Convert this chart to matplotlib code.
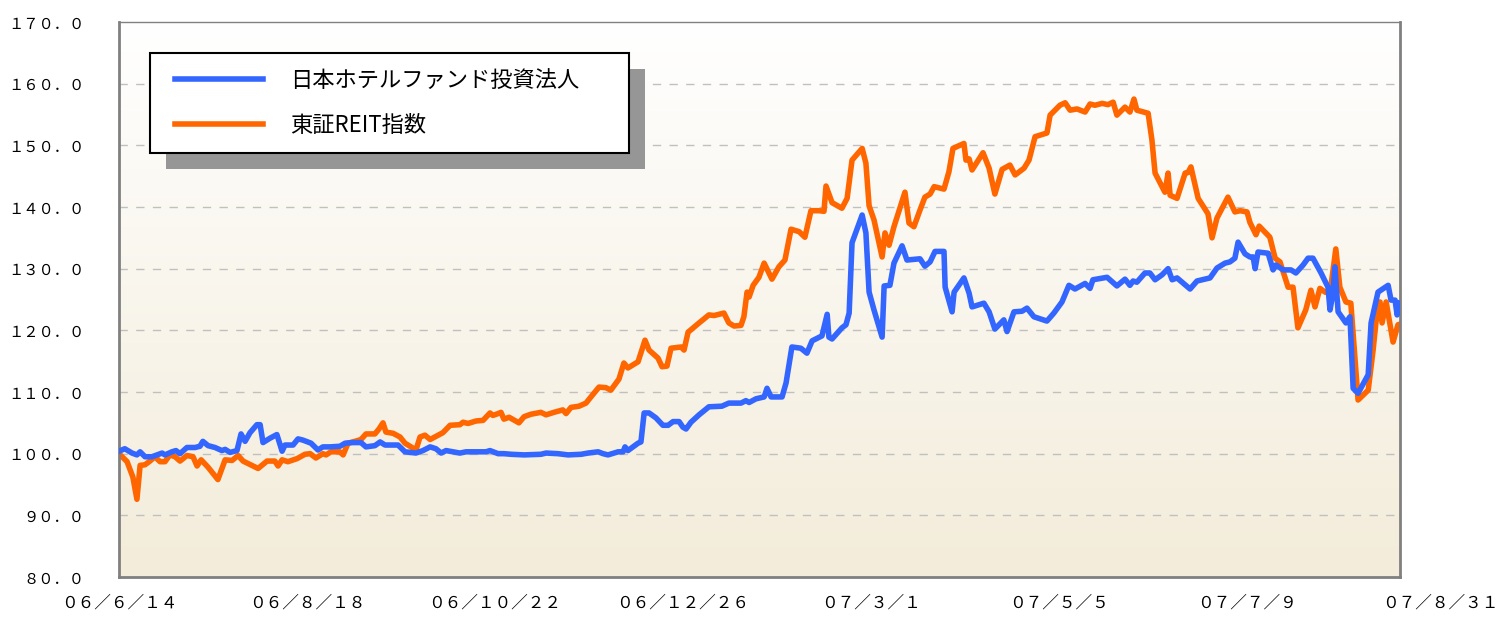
import matplotlib
matplotlib.use("Agg")
import matplotlib.pyplot as plt
import matplotlib.transforms as mtransforms
from matplotlib.patches import Rectangle
from matplotlib.lines import Line2D
from matplotlib.legend_handler import HandlerLine2D
import numpy as np

plt.rcParams["font.family"] = ["Noto Sans CJK JP", "DejaVu Sans"]

# days since 06/6/14 and index values (start = 100)
hotel_days = [0, 2, 4.5, 6.2, 7.3, 9, 11.4, 13.1, 14.9, 15.9, 18.3, 19.7, 21.1, 23.5, 26.3,
              28, 29, 30.8, 33.2, 35.6, 36.7, 38.4, 40.8, 42.2, 43.6, 45.3, 47.7, 48.8, 49.8,
              52.2, 54.6, 56.4, 57.4, 60.2, 61.9, 63.6, 66.4, 68.8, 70.5, 73, 76.4, 78.2,
              80.9, 83.7, 85.4, 88.5, 90.3, 92, 96.5, 98.9, 102.7, 105.1, 107.6, 109.6,
              111.4, 113.1, 117.9, 120, 126.9, 128.3, 131.1, 133.1, 135.6, 140.1, 145.9,
              147.7, 151.8, 155.3, 159.8, 162.2, 165.7, 167.4, 169.1, 172.6, 174.3, 175, 176,
              179.5, 180.5, 181.6, 183.3, 185.7, 188.1, 189.9, 191.6, 193.7, 195, 196.1,
              197.8, 200.6, 204, 208.5, 210.9, 215.1, 216.8, 217.9, 220.3, 223.1, 224.1,
              225.5, 229.3, 230.7, 232.7, 235.8, 237.9, 239.7, 243.1, 244.9, 245.5, 246.6,
              250, 251.4, 252.5, 253.5, 257, 258.3, 259.4, 261.1, 263.9, 264.6, 266.6, 268,
              270.8, 272.5, 277, 278.7, 280.5, 282.2, 285.3, 285.7, 288.1, 288.8, 292.2, 294,
              295, 299.1, 300.9, 302.9, 306, 307.1, 309.5, 312.3, 314, 316.4, 320.9, 323.3,
              326.1, 328.5, 330.6, 334.1, 335.8, 336.8, 341.7, 345.1, 347.9, 349.6, 350.7,
              352, 354.8, 356.5, 358.3, 360.7, 362.8, 364.2, 365.9, 370.4, 372.8, 377.3,
              379.7, 382.5, 384.2, 385.9, 387, 389.4, 391.1, 392.2, 392.9, 393.9, 397.4,
              399.1, 400.1, 402.6, 405.3, 407, 409.5, 411.2, 412.9, 415.7, 418.1, 418.8,
              419.8, 420.5, 421.6, 424.3, 425.7, 426.8, 428.5, 432, 433, 435.4, 438.9, 439.9,
              441.3, 442, 443]
hotel_vals = [100.4, 100.8, 100.1, 99.8, 100.3, 99.5, 99.5, 99.8, 100.1, 99.8, 100.3, 100.5,
              100.0, 101.0, 101.0, 101.2, 102.0, 101.3, 101.0, 100.5, 100.7, 100.2, 100.5,
              103.2, 102.0, 103.4, 104.7, 104.7, 101.8, 102.5, 103.1, 100.4, 101.4, 101.4,
              102.4, 102.2, 101.7, 100.6, 101.1, 101.1, 101.2, 101.7, 101.8, 101.8, 101.1,
              101.3, 101.9, 101.4, 101.4, 100.3, 100.1, 100.5, 101.1, 100.8, 100.1, 100.5,
              100.1, 100.3, 100.3, 100.5, 100.0, 100.0, 99.9, 99.8, 99.9, 100.1, 100.0, 99.8,
              99.9, 100.1, 100.3, 100.0, 99.8, 100.3, 100.3, 101.1, 100.5, 101.7, 101.9,
              106.6, 106.6, 105.8, 104.6, 104.6, 105.2, 105.2, 104.3, 104.0, 105.1, 106.3,
              107.6, 107.7, 108.2, 108.2, 108.6, 108.3, 108.9, 109.2, 110.6, 109.2, 109.2,
              111.5, 117.3, 117.1, 116.3, 118.3, 119.1, 122.6, 118.9, 118.6, 120.4, 120.9,
              122.8, 134.2, 138.7, 135.8, 126.2, 123.3, 118.9, 127.2, 127.3, 130.9, 133.7,
              131.4, 131.6, 130.4, 131.1, 132.8, 132.8, 127.0, 123.0, 126.2, 128.5, 126.0,
              123.8, 124.4, 123.0, 120.2, 121.7, 119.8, 123.0, 123.1, 123.6, 122.2, 121.5,
              122.8, 124.6, 127.3, 126.7, 127.6, 126.8, 128.2, 128.6, 127.2, 128.3, 127.3,
              128.0, 127.8, 129.3, 129.3, 128.2, 129.0, 130.0, 128.2, 128.5, 126.7, 128.0,
              128.5, 130.1, 130.9, 131.1, 131.7, 134.3, 132.4, 131.9, 131.9, 130.0, 132.7,
              132.5, 129.8, 130.6, 129.8, 129.8, 129.3, 130.6, 131.7, 131.7, 129.3, 127.0,
              123.3, 126.0, 130.3, 123.0, 121.2, 122.2, 110.6, 109.8, 112.8, 121.2, 126.2,
              127.3, 124.9, 124.9, 122.5, 124.4]

reit_days = [0, 2.8, 4.8, 6.2, 7.3, 9, 10.7, 12.4, 14.2, 15.9, 17.6, 19.4, 21.1, 23.5, 25.6,
             27, 28.4, 30.8, 34.2, 36.7, 39.1, 41.2, 42.9, 48.1, 51.2, 53.9, 55, 56.4, 58.4,
             61.6, 64.3, 66.1, 68.1, 70.5, 71.6, 73.3, 76.4, 77.5, 79.2, 81.6, 83.7, 85.4,
             88.5, 89.9, 91.3, 92.3, 94.8, 97.2, 98.9, 101, 102.7, 104.1, 105.8, 107.6, 109.6,
             112, 114.5, 117.9, 119, 120.7, 123.5, 125.9, 128.3, 129.3, 131.1, 132.1, 133.1,
             134.9, 138.3, 140.1, 142.5, 145.9, 147.7, 150.4, 153.5, 154.6, 156.3, 159.1,
             161.5, 163.2, 166, 168.4, 170.1, 172.9, 174.6, 176, 179.5, 181.9, 183.3, 186.4,
             187.8, 189.5, 190.9, 194.4, 195.4, 196.8, 200.6, 204, 205.8, 209.2, 210.9, 212.7,
             215.1, 216.1, 217.2, 217.9, 219.3, 221.3, 223.1, 225.8, 228.2, 230.3, 232.4,
             235.2, 237.2, 239.3, 242.1, 243.8, 244.5, 246.6, 250, 251.8, 253.5, 257, 258.3,
             259.4, 261.1, 263.9, 264.9, 266.3, 268, 271.8, 273.2, 274.9, 277, 278.7, 280.5,
             281.9, 285.3, 287, 288.4, 292.2, 292.9, 294, 295, 298.8, 300.9, 302.9, 305.4,
             308.1, 309.9, 313, 314.7, 316.8, 320.9, 322, 325.4, 327.2, 328.9, 331.3, 334.1,
             335.8, 337.5, 340, 342, 343.8, 345.1, 347.9, 349.6, 351, 352, 355.9, 357.2,
             358.3, 360.7, 361.7, 362.8, 363.5, 365.9, 368.7, 369.7, 370.7, 373.2, 376.6, 378,
             379.7, 383.5, 385.9, 387.7, 390.1, 391.1, 393.2, 394.3, 398, 399.8, 401.5, 404.3,
             406, 407.7, 410.4, 412.2, 413.6, 415.3, 417.1, 418.8, 420.8, 422.2, 424.3, 426,
             428.5, 432, 433.7, 434.7, 436.1, 436.8, 438.2, 440.6, 442.3, 443]
reit_vals = [100.0, 98.7, 96.2, 92.6, 98.1, 98.2, 98.8, 99.5, 98.7, 98.7, 99.8, 99.5, 98.8,
             99.7, 99.5, 98.0, 99.0, 97.8, 95.8, 99.0, 98.9, 99.7, 98.8, 97.6, 98.8, 98.8,
             98.0, 99.0, 98.7, 99.2, 99.9, 100.0, 99.3, 100.0, 99.8, 100.3, 100.3, 99.8, 101.7,
             102.0, 102.3, 103.2, 103.2, 104.0, 105.0, 103.5, 103.3, 102.7, 101.7, 101.1,
             100.6, 102.7, 103.0, 102.3, 102.8, 103.4, 104.6, 104.7, 105.1, 104.9, 105.3,
             105.4, 106.6, 106.2, 106.5, 106.7, 105.6, 105.9, 105.0, 106.0, 106.4, 106.7,
             106.3, 106.7, 107.1, 106.5, 107.5, 107.7, 108.2, 109.2, 110.8, 110.7, 110.3,
             112.1, 114.7, 113.9, 114.9, 118.4, 116.8, 115.5, 114.1, 114.2, 117.1, 117.3,
             116.8, 119.7, 121.2, 122.5, 122.4, 122.8, 121.2, 120.7, 120.8, 122.2, 126.2,
             125.4, 127.3, 128.6, 130.9, 128.3, 130.3, 131.4, 136.4, 136.0, 135.1, 139.4,
             139.4, 139.3, 143.4, 140.7, 139.8, 141.4, 147.6, 149.5, 147.1, 140.2, 137.9,
             131.9, 135.8, 133.8, 136.8, 142.4, 137.4, 136.8, 139.5, 141.6, 142.1, 143.3,
             142.9, 145.7, 149.5, 150.3, 147.6, 147.8, 146.0, 148.8, 146.3, 142.1, 146.1,
             146.8, 145.2, 146.3, 147.6, 151.4, 152.0, 154.9, 156.5, 156.9, 155.7, 155.9,
             155.4, 156.7, 156.5, 156.8, 156.6, 157.0, 154.9, 156.2, 155.4, 157.5, 155.7,
             155.2, 150.9, 145.5, 143.3, 142.4, 145.5, 141.9, 141.4, 145.5, 145.6, 146.5,
             141.4, 138.9, 135.0, 138.2, 141.6, 139.2, 139.4, 139.2, 137.5, 135.5, 136.9,
             135.1, 131.7, 131.1, 127.0, 127.0, 120.4, 123.3, 126.5, 123.8, 126.8, 126.2,
             126.0, 133.2, 127.0, 124.6, 124.4, 108.7, 110.3, 116.8, 121.4, 124.6, 121.2,
             124.6, 118.1, 120.9, 121.0]

series_names = ["日本ホテルファンド投資法人", "東証REIT指数"]
series_colors = ["#3366FF", "#FF6600"]

x_tick_days = [0, 65, 130, 195, 260, 325, 390, 443]
x_tick_labels = ["06/6/14", "06/8/18", "06/10/22", "06/12/26", "07/3/1", "07/5/5", "07/7/9", "07/8/31"]
y_ticks = [80, 90, 100, 110, 120, 130, 140, 150, 160, 170]

# the original axis uses full-width characters
zenkaku = str.maketrans("0123456789./", "０１２３４５６７８９．／")

fig = plt.figure(figsize=(14.97, 6.17), dpi=100)
ax = fig.add_axes([119 / 1497, 40 / 617, 1281 / 1497, 555 / 617])

# background gradient white -> beige
grad = np.linspace(0, 1, 256).reshape(-1, 1)
top = np.array([1.0, 1.0, 1.0])
bottom = np.array([243, 236, 218]) / 255
img = top + (bottom - top) * grad[..., None]
ax.imshow(img, extent=[0, 443, 80, 170], aspect="auto", origin="upper", zorder=0)

ax.plot(hotel_days, hotel_vals, color=series_colors[0], lw=4, label=series_names[0],
        zorder=3, solid_joinstyle="round")
ax.plot(reit_days, reit_vals, color=series_colors[1], lw=4, label=series_names[1],
        zorder=2, solid_joinstyle="round")

ax.set_xlim(0, 443)
ax.set_ylim(80, 170)
ax.set_yticks(y_ticks)
ax.set_yticklabels([f"{v:.1f}".translate(zenkaku) for v in y_ticks], fontsize=11)
ax.set_xticks(x_tick_days)
ax.set_xticklabels([s.translate(zenkaku) for s in x_tick_labels], fontsize=12)
ax.tick_params(axis="both", length=0, colors="black")
ax.tick_params(axis="y", pad=25)
ax.tick_params(axis="x", pad=13)

# last date label sits right of the axis end
last = ax.get_xticklabels()[-1]
last.set_transform(last.get_transform() + mtransforms.ScaledTranslation(0.40, 0, fig.dpi_scale_trans))

ax.grid(axis="y", color="#C0C0C0", linestyle=(0, (6, 6)), linewidth=1)
ax.set_axisbelow(True)
ax.yaxis.get_gridlines()[0].set_visible(False)
ax.yaxis.get_gridlines()[-1].set_visible(False)

for side in ["left", "bottom", "right", "top"]:
    ax.spines[side].set_color("#808080")
    ax.spines[side].set_linewidth(2)
ax.spines["top"].set_linewidth(1)

leg = ax.legend(loc="upper left", bbox_to_anchor=(31 / 1281, 0, 479 / 1281, 1 - 31 / 555),
                mode="expand", fontsize=16, handlelength=4.37, handletextpad=1.2,
                borderpad=0.72, labelspacing=0.98, borderaxespad=0, fancybox=False,
                edgecolor="black", framealpha=1,
                handler_map={Line2D: HandlerLine2D(xpad=0.4)})
leg.get_frame().set_linewidth(1.5)
leg.set_zorder(6)

fig.canvas.draw()
bb = leg.get_window_extent()
shadow = Rectangle((bb.x0 + 16, bb.y0 - 16), bb.width, bb.height, transform=None,
                   facecolor="#969696", edgecolor="none", zorder=5)
ax.add_artist(shadow)

fig.savefig("out.png", dpi=100)
